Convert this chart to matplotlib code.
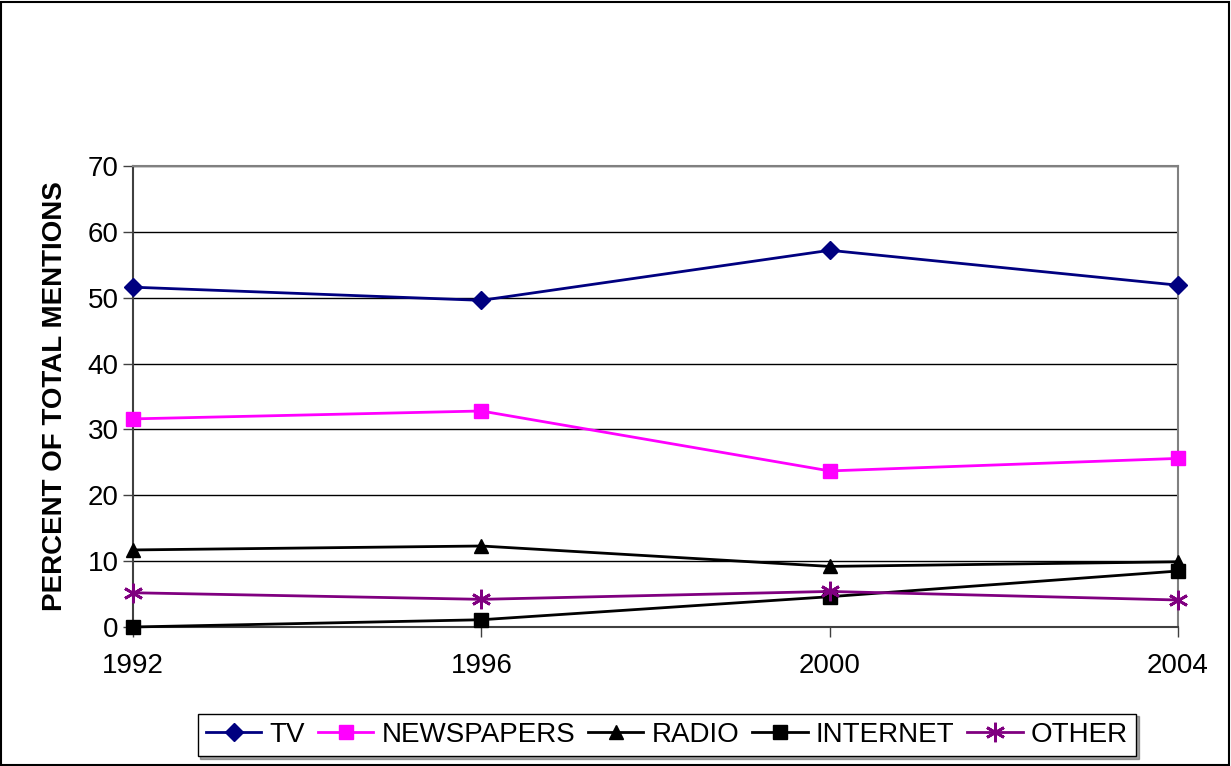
import matplotlib.pyplot as plt
from matplotlib.patches import Rectangle

plt.rcParams['font.family'] = ['Liberation Sans', 'DejaVu Sans']

years = [1992, 1996, 2000, 2004]
tv = [51.6, 49.6, 57.2, 51.9]
newspapers = [31.6, 32.8, 23.7, 25.6]
radio = [11.7, 12.3, 9.2, 9.9]
internet = [0.0, 1.1, 4.6, 8.5]
other = [5.2, 4.2, 5.4, 4.1]
y_ticks = [0, 10, 20, 30, 40, 50, 60, 70]

fig = plt.figure(figsize=(12.31, 7.66), dpi=100)
ax = fig.add_axes([133 / 1231, 1 - 627 / 766, (1178 - 133) / 1231, (627 - 166) / 766])

ax.plot(years, tv, color='#000080', marker='D', markersize=9, lw=2, label='TV', clip_on=False, zorder=5)
ax.plot(years, newspapers, color='#FF00FF', marker='s', markersize=10, lw=2, label='NEWSPAPERS', clip_on=False, zorder=5)
ax.plot(years, radio, color='black', marker='^', markersize=10, lw=2, label='RADIO', clip_on=False, zorder=5)
ax.plot(years, internet, color='black', marker='s', markersize=10, lw=2, label='INTERNET', clip_on=False, zorder=5)
ax.plot(years, other, color='#800080', marker=(6, 2, 0), markersize=14, mew=2, lw=2, label='OTHER', clip_on=False, zorder=5)

ax.set_xlim(1992, 2004)
ax.set_ylim(0, 70)
ax.set_xticks(years)
ax.set_yticks(y_ticks)
ax.yaxis.grid(True, color='black', lw=1)
ax.set_axisbelow(True)
ax.tick_params(axis='both', labelsize=20, length=7, width=1, direction='out', color='#404040')
ax.tick_params(axis='x', pad=12)
for s in ['top', 'right']:
    ax.spines[s].set_color('#808080')
    ax.spines[s].set_linewidth(1.5)
for s in ['left', 'bottom']:
    ax.spines[s].set_color('#404040')
    ax.spines[s].set_linewidth(1.5)

ax.set_ylabel('PERCENT OF TOTAL MENTIONS', fontsize=20, fontweight='bold', labelpad=14)

leg = fig.legend(loc='center', bbox_to_anchor=(667 / 1231, 1 - 735 / 766),
                 ncol=5, fontsize=20, frameon=True, fancybox=False, shadow=True,
                 handlelength=2.0, handletextpad=0.3, columnspacing=0.45, borderpad=0.3,
                 borderaxespad=0.2)
leg.get_frame().set_edgecolor('black')
leg.get_frame().set_linewidth(1)

fig.patches.append(Rectangle((0.001, 0.001), 0.997, 0.997, transform=fig.transFigure,
                             fill=False, edgecolor='black', lw=1.5))

fig.savefig('out.png', dpi=100)
